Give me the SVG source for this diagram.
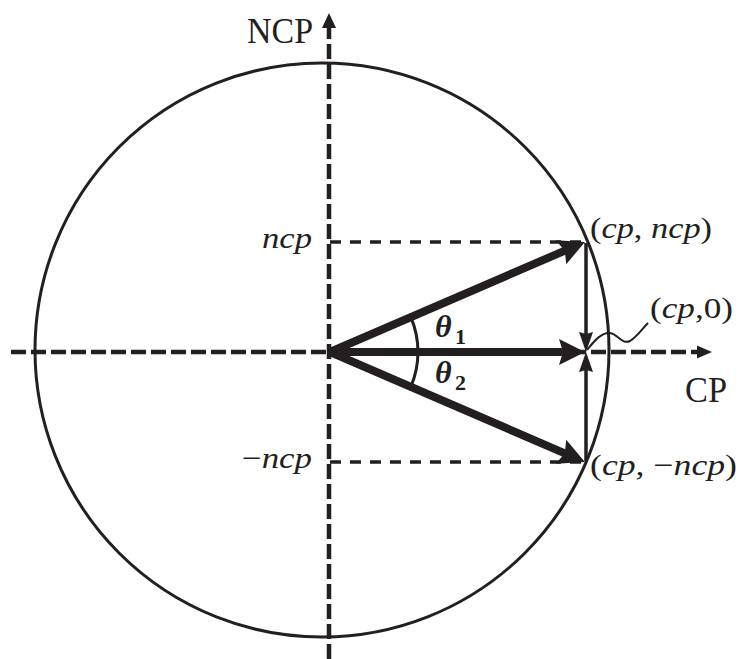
<svg xmlns="http://www.w3.org/2000/svg" width="738" height="659" viewBox="0 0 738 659">
<style>
.axis{stroke:#231f20;stroke-width:4.5;stroke-dasharray:15 5;fill:none}
.guide{stroke:#231f20;stroke-width:3.5;stroke-dasharray:11 9;fill:none}
.vec{stroke:#231f20;stroke-width:8;fill:none}
.thin{stroke:#231f20;stroke-width:3.5;fill:none}
.head{fill:#231f20}
text{font-family:"Liberation Serif","Times New Roman",serif;fill:#231f20}
.it{font-style:italic}
.th{font-style:italic;font-weight:bold}
.sub{font-weight:bold}
</style>
<defs>
<marker id="big" markerUnits="userSpaceOnUse" markerWidth="28" markerHeight="28" viewBox="0 0 28 28" refX="6" refY="13" orient="auto">
<path class="head" d="M0,0 L26,13 L0,26 L4,13 z"/>
</marker>
<marker id="small" markerUnits="userSpaceOnUse" markerWidth="22" markerHeight="16" viewBox="0 0 22 16" refX="2" refY="7" orient="auto">
<path class="head" d="M0,0 L20,7 L0,14 L2,7 z"/>
</marker>
</defs>
<g id="circle">
<circle cx="322" cy="350" r="287" fill="none" stroke="#231f20" stroke-width="3"/>
</g>
<g id="connectors">
<line class="axis" x1="329" y1="659" x2="329" y2="28"/>
<polygon class="head" points="329,13 322,28 336,28"/>
<line class="axis" x1="11" y1="352" x2="697" y2="352"/>
<polygon class="head" points="712,352 697,345.5 697,358.5"/>
<line class="guide" x1="330" y1="242" x2="585" y2="242"/>
<line class="guide" x1="330" y1="462" x2="585" y2="462"/>
<line class="vec" x1="330" y1="352" x2="566.6" y2="249.9" marker-end="url(#big)"/>
<line class="vec" x1="330" y1="352" x2="565" y2="352" marker-end="url(#big)"/>
<line class="vec" x1="330" y1="352" x2="566.6" y2="454.1" marker-end="url(#big)"/>
<line class="thin" x1="586" y1="243" x2="586" y2="334" marker-end="url(#small)"/>
<line class="thin" x1="586" y1="461" x2="586" y2="370" marker-end="url(#small)"/>
<path class="thin" d="M410.8,317.2 A88,88 0 0,1 410.8,386.8" style="stroke-width:3"/>
<path d="M587,350 C595,340 602,332 610,333 C618,334 622,345 630,341 C637,337 642,329 648,323" fill="none" stroke="#231f20" stroke-width="2"/>
</g>
<g id="label-NCP"><text x="247" y="43" font-size="36" textLength="66" lengthAdjust="spacingAndGlyphs">NCP</text></g>
<g id="label-CP"><text x="685" y="402" font-size="36" textLength="42" lengthAdjust="spacingAndGlyphs">CP</text></g>
<g id="label-ncp"><text class="it" x="262" y="248" font-size="30" textLength="50" lengthAdjust="spacingAndGlyphs">ncp</text></g>
<g id="label-mncp"><text x="242" y="468" font-size="30" textLength="70" lengthAdjust="spacingAndGlyphs">−<tspan class="it">ncp</tspan></text></g>
<g id="label-p1"><text x="590" y="238" font-size="30" textLength="122" lengthAdjust="spacingAndGlyphs">(<tspan class="it">cp</tspan>, <tspan class="it">ncp</tspan>)</text></g>
<g id="label-p0"><text x="650" y="318" font-size="30" textLength="83" lengthAdjust="spacingAndGlyphs">(<tspan class="it">cp</tspan>,0)</text></g>
<g id="label-p2"><text x="590" y="475" font-size="30" textLength="147" lengthAdjust="spacingAndGlyphs">(<tspan class="it">cp</tspan>, −<tspan class="it">ncp</tspan>)</text></g>
<g id="label-theta1"><text class="th" x="435" y="337" font-size="32">θ</text><text class="sub" x="455" y="344" font-size="22">1</text></g>
<g id="label-theta2"><text class="th" x="435" y="383" font-size="32">θ</text><text class="sub" x="455" y="390" font-size="22">2</text></g>
</svg>
